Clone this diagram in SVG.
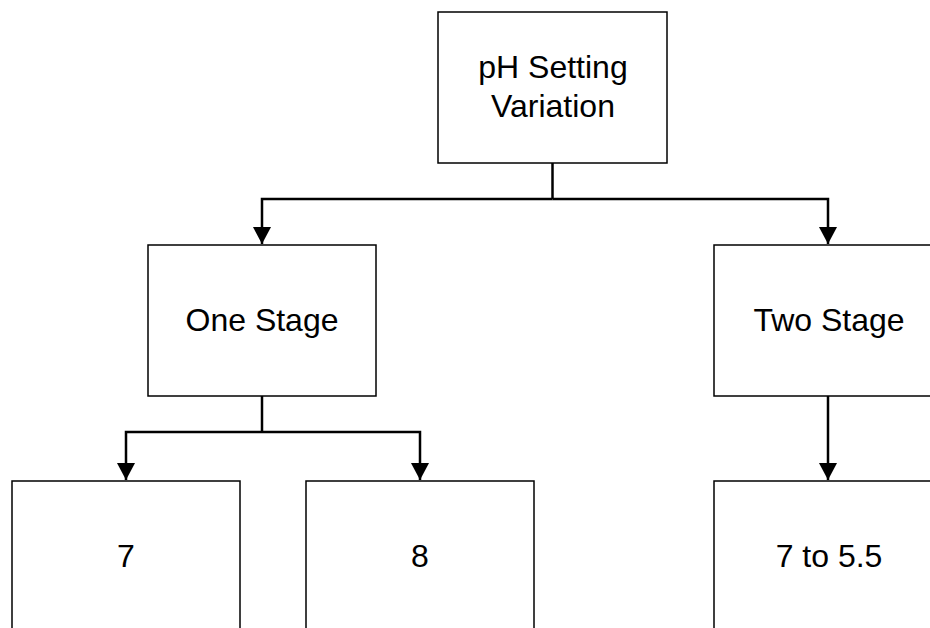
<svg xmlns="http://www.w3.org/2000/svg" width="930" height="628" viewBox="0 0 930 628">
  <style>
    .box { fill: #ffffff; stroke: #000000; stroke-width: 1.5; }
    .lbl { font-family: "Liberation Sans", Arial, sans-serif; font-size: 32px; fill: #000000; text-anchor: middle; }
    .wire { fill: none; stroke: #000000; stroke-width: 2.5; }
  </style>
  <defs>
    <marker id="arrow" viewBox="0 0 17 18" refX="17" refY="9" markerWidth="17" markerHeight="18" markerUnits="userSpaceOnUse" orient="auto">
      <path d="M0,0 L17,9 L0,18 Z" fill="#000000"/>
    </marker>
  </defs>
  <rect width="930" height="628" fill="#ffffff"/>

  <g id="connectors">
    <path class="wire" d="M552.5,163 V199"/>
    <path class="wire" d="M552.5,199 H262 V244" marker-end="url(#arrow)"/>
    <path class="wire" d="M552.5,199 H828 V244" marker-end="url(#arrow)"/>
    <path class="wire" d="M262,396 V432"/>
    <path class="wire" d="M262,432 H126 V480" marker-end="url(#arrow)"/>
    <path class="wire" d="M262,432 H420 V480" marker-end="url(#arrow)"/>
    <path class="wire" d="M828,396 V480" marker-end="url(#arrow)"/>
  </g>

  <g id="root">
    <rect class="box" x="438" y="12" width="229" height="151"/>
    <text class="lbl" x="553" y="78">pH Setting</text>
    <text class="lbl" x="553" y="117">Variation</text>
  </g>

  <g id="one-stage">
    <rect class="box" x="148" y="245" width="228" height="151"/>
    <text class="lbl" x="262" y="331">One Stage</text>
  </g>

  <g id="two-stage">
    <rect class="box" x="714" y="245" width="228" height="151"/>
    <text class="lbl" x="829" y="331">Two Stage</text>
  </g>

  <g id="ph-7">
    <rect class="box" x="12" y="481" width="228" height="160"/>
    <text class="lbl" x="126" y="567">7</text>
  </g>

  <g id="ph-8">
    <rect class="box" x="306" y="481" width="228" height="160"/>
    <text class="lbl" x="420" y="567">8</text>
  </g>

  <g id="ph-7-to-5-5">
    <rect class="box" x="714" y="481" width="228" height="160"/>
    <text class="lbl" x="829" y="567">7 to 5.5</text>
  </g>
</svg>
